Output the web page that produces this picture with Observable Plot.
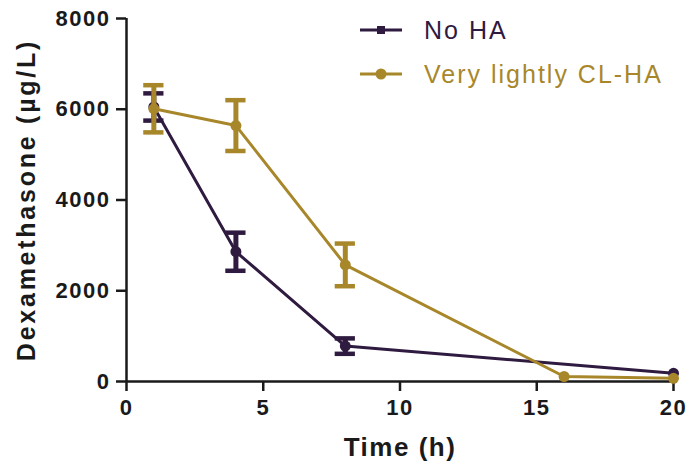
<!DOCTYPE html>
<html>
<head>
<meta charset="utf-8">
<script src="https://cdn.jsdelivr.net/npm/d3@7"></script>
<script src="https://cdn.jsdelivr.net/npm/@observablehq/plot@0.6"></script>
<style>
  body { margin: 0; background: #fff; }
  #wrap { position: relative; width: 691px; height: 465px; font-family: "Liberation Sans", Arial, sans-serif; }
  #legend { position: absolute; left: 358px; top: 8px; }
  .lg-row { display: flex; align-items: center; height: 44px; }
  .lg-row span { font-size: 25px; letter-spacing: 2px; margin-left: 20px; }
</style>
</head>
<body>
<div id="wrap"><div id="legend"></div></div>
<script>
// ---- data ----
const seriesNames = ["No HA", "Very lightly CL-HA"];
const seriesColors = ["#2f1a40", "#a8872b"];
const timesNoHA = [1, 4, 8, 20];
const valuesNoHA = [6050, 2860, 780, 180];
const errorsNoHA = [300, 420, 170, 0];
const timesCL = [1, 4, 8, 16, 20];
const valuesCL = [6010, 5640, 2570, 110, 70];
const errorsCL = [520, 560, 470, 0, 0];
const xTicks = [0, 5, 10, 15, 20];
const yTicks = [0, 2000, 4000, 6000, 8000];
const xLabel = "Time (h)";
const yLabel = "Dexamethasone (µg/L)";

const rows = [];
timesNoHA.forEach((t, i) => rows.push({series: seriesNames[0], t, v: valuesNoHA[i], e: errorsNoHA[i]}));
timesCL.forEach((t, i) => rows.push({series: seriesNames[1], t, v: valuesCL[i], e: errorsCL[i]}));
const withErr = rows.filter(d => d.e > 0);
const capHalf = 0.37;

const ink = "#1a1a1a";
const chart = Plot.plot({
  width: 691,
  height: 465,
  marginLeft: 126,
  marginRight: 18,
  marginTop: 18,
  marginBottom: 84,
  style: {fontFamily: "Liberation Sans, Arial, sans-serif", background: "transparent"},
  x: {domain: [0, 20]},
  y: {domain: [0, 8000]},
  color: {domain: seriesNames, range: seriesColors},
  marks: [
    Plot.axisX({ticks: xTicks, tickSize: 10, tickPadding: 8, tickFormat: d => String(d), fontSize: 22, fontWeight: "bold", label: null, stroke: ink, strokeWidth: 2.5, color: ink}),
    Plot.axisY({ticks: yTicks, tickSize: 10, tickPadding: 6, tickFormat: d => String(d), fontSize: 22, fontWeight: "bold", label: null, stroke: ink, strokeWidth: 2.5, color: ink}),
    Plot.ruleX([0], {stroke: ink, strokeWidth: 2.5}),
    Plot.ruleY([0], {stroke: ink, strokeWidth: 2.5}),
    Plot.text([yLabel], {frameAnchor: "left", textAnchor: "middle", rotate: -90, dx: -100, lineAnchor: "middle", fontSize: 25, fontWeight: "bold", fill: ink}),
    Plot.text([xLabel], {frameAnchor: "bottom", textAnchor: "middle", dy: 66, lineAnchor: "middle", fontSize: 26, fontWeight: "bold", fill: ink}),
    ...seriesNames.map(name => [
      Plot.line(rows.filter(d => d.series === name), {x: "t", y: "v", stroke: "series", strokeWidth: 3}),
      Plot.ruleX(withErr.filter(d => d.series === name), {x: "t", y1: d => d.v - d.e, y2: d => d.v + d.e, stroke: "series", strokeWidth: 5}),
      Plot.ruleY(withErr.filter(d => d.series === name), {y: d => d.v + d.e, x1: d => d.t - capHalf, x2: d => d.t + capHalf, stroke: "series", strokeWidth: 4.5}),
      Plot.ruleY(withErr.filter(d => d.series === name), {y: d => d.v - d.e, x1: d => d.t - capHalf, x2: d => d.t + capHalf, stroke: "series", strokeWidth: 4.5}),
      Plot.dot(rows.filter(d => d.series === name), {x: "t", y: "v", fill: "series", r: 5.5})
    ]).flat()
  ]
});
document.getElementById("wrap").prepend(chart);

// letter spacing to match the reference's wide type
d3.select(chart).selectAll("text").each(function() {
  const s = this.textContent;
  let ls = 1.5;
  if (s === yLabel) ls = 2.75;
  else if (s === xLabel) ls = 1.5;
  this.style.letterSpacing = ls + "px";
});

// legend
const legend = document.getElementById("legend");
seriesNames.forEach((name, i) => {
  const row = document.createElement("div");
  row.className = "lg-row";
  const sw = d3.create("svg").attr("width", 46).attr("height", 14);
  sw.append("line").attr("x1", 2).attr("x2", 44).attr("y1", 7).attr("y2", 7).attr("stroke", seriesColors[i]).attr("stroke-width", 3);
  if (i === 0) sw.append("rect").attr("x", 19).attr("y", 3).attr("width", 8).attr("height", 8).attr("fill", seriesColors[i]);
  else sw.append("circle").attr("cx", 23).attr("cy", 7).attr("r", 5.5).attr("fill", seriesColors[i]);
  row.appendChild(sw.node());
  const sp = document.createElement("span");
  sp.textContent = name;
  sp.style.color = seriesColors[i];
  row.appendChild(sp);
  legend.appendChild(row);
});
</script>
</body>
</html>
